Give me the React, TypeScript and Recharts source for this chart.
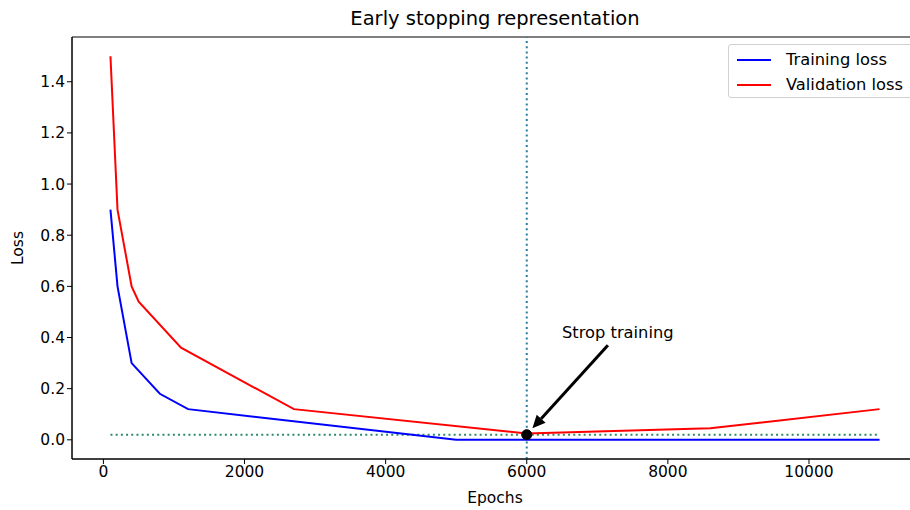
import { LineChart, Line, XAxis, YAxis, ReferenceLine, ReferenceDot, ReferenceArea } from 'recharts'

const trainEpochs = [100, 200, 400, 800, 1200, 5000, 11000]
const trainLoss = [0.9, 0.6, 0.3, 0.18, 0.12, 0.0, 0.0]

const valEpochs = [100, 200, 400, 500, 1100, 2700, 6000, 8600, 11000]
const valLoss = [1.5, 0.9, 0.6, 0.54, 0.36, 0.12, 0.025, 0.045, 0.12]

const thresholdEpochs = [100, 11000]
const thresholdLoss = [0.02, 0.02]

const stopEpoch = 6000
const stopLoss = 0.02
const annotationText = 'Strop training'
const annotationPos = { x: 6500, y: 0.4 }
const arrowFrom = { x: 7150, y: 0.37 }
const arrowTo = { x: 6080, y: 0.045 }

const xTicks = [0, 2000, 4000, 6000, 8000, 10000]
const yTicks = [0, 0.2, 0.4, 0.6, 0.8, 1.0, 1.2, 1.4]
const xDomain: [number, number] = [-445, 11545]
const yDomain: [number, number] = [-0.075, 1.575]

const FONT = '"DejaVu Sans", sans-serif'
const TICK_SIZE = 15.5
const TEXT_SIZE = 16.3

const toPoints = (xs: number[], ys: number[]) => xs.map((x, i) => ({ x, y: ys[i] }))

const trainData = toPoints(trainEpochs, trainLoss)
const valData = toPoints(valEpochs, valLoss)
const thresholdData = toPoints(thresholdEpochs, thresholdLoss)

function Arrow(props: any) {
  const { x1, y1, x2, y2 } = props
  if ([x1, y1, x2, y2].some((v) => typeof v !== 'number')) return null
  const ang = Math.atan2(y2 - y1, x2 - x1)
  const headLen = 13
  const headW = 6
  const bx = x2 - headLen * Math.cos(ang)
  const by = y2 - headLen * Math.sin(ang)
  const px = -Math.sin(ang) * headW
  const py = Math.cos(ang) * headW
  return (
    <g>
      <line x1={x1} y1={y1} x2={bx} y2={by} stroke="#000" strokeWidth={3} />
      <polygon points={`${x2},${y2} ${bx + px},${by + py} ${bx - px},${by - py}`} fill="#000" />
    </g>
  )
}

const legendItems = [
  { name: 'Training loss', color: '#0000ff' },
  { name: 'Validation loss', color: '#ff0000' },
]

export default function App() {
  return (
    <div style={{ position: 'fixed', left: 0, top: 0, width: 910, height: 510, overflow: 'hidden', background: '#fff', fontFamily: FONT }}>
      <div style={{ position: 'absolute', left: 0, width: 990, top: 7, textAlign: 'center', fontSize: 19.5, color: '#000' }}>
        Early stopping representation
      </div>
      <LineChart width={930} height={510} margin={{ top: 37, right: 12, bottom: 6, left: 0 }}>
        <XAxis
          type="number"
          dataKey="x"
          domain={xDomain}
          ticks={xTicks}
          allowDataOverflow
          height={45}
          tickSize={5}
          tick={{ fill: '#000', fontSize: TICK_SIZE, fontFamily: FONT }}
          tickLine={{ stroke: '#000' }}
          axisLine={{ stroke: '#000' }}
          label={{ value: 'Epochs', position: 'insideBottom', offset: 1, fill: '#000', fontSize: TICK_SIZE, fontFamily: FONT }}
        />
        <YAxis
          type="number"
          dataKey="y"
          domain={yDomain}
          ticks={yTicks}
          allowDataOverflow
          width={72}
          tickSize={5}
          tickFormatter={(v: number) => v.toFixed(1)}
          tick={{ fill: '#000', fontSize: TICK_SIZE, fontFamily: FONT }}
          tickLine={{ stroke: '#000' }}
          axisLine={{ stroke: '#000' }}
          label={{
            content: (p: any) => {
              const vb = p.viewBox || { y: 37, height: 422 }
              const cy = vb.y + vb.height / 2
              return (
                <text x={23} y={cy} transform={`rotate(-90, 23, ${cy})`} textAnchor="middle" fill="#000" fontSize={TICK_SIZE} fontFamily={FONT}>
                  Loss
                </text>
              )
            },
          }}
        />
        <ReferenceArea x1={xDomain[0]} x2={xDomain[1]} y1={yDomain[0]} y2={yDomain[1]} fill="none" stroke="#000" strokeWidth={1} />
        <ReferenceLine x={stopEpoch} stroke="#2a7d9c" strokeWidth={2} strokeDasharray="2 3.2" />
        <Line data={thresholdData} dataKey="y" stroke="#2e8b6a" strokeWidth={2} strokeDasharray="2 3.2" dot={false} isAnimationActive={false} />
        <Line data={trainData} dataKey="y" name="Training loss" stroke="#0000ff" strokeWidth={2} dot={false} isAnimationActive={false} />
        <Line data={valData} dataKey="y" name="Validation loss" stroke="#ff0000" strokeWidth={2} dot={false} isAnimationActive={false} />
        <ReferenceDot x={stopEpoch} y={stopLoss} r={5} fill="#000" stroke="#000" />
        <ReferenceLine segment={[arrowFrom, arrowTo]} shape={Arrow} />
        <ReferenceDot
          x={annotationPos.x}
          y={annotationPos.y}
          r={0}
          fill="none"
          stroke="none"
          label={{
            content: (p: any) => {
              const vb = p.viewBox || { x: 0, y: 0 }
              return (
                <text x={vb.x} y={vb.y} textAnchor="start" fill="#000" fontSize={TEXT_SIZE} fontFamily={FONT}>
                  {annotationText}
                </text>
              )
            },
          }}
        />
      </LineChart>
      <div
        style={{
          position: 'absolute',
          left: 728,
          top: 44,
          width: 200,
          height: 54,
          border: '1px solid #d0d0d0',
          borderRadius: 3,
          background: 'rgba(255,255,255,0.8)',
          boxSizing: 'border-box',
          fontSize: TEXT_SIZE,
          color: '#000',
        }}
      >
        {legendItems.map((it, i) => (
          <div key={it.name} style={{ position: 'absolute', left: 8, top: 5 + i * 25, height: 19, display: 'flex', alignItems: 'center' }}>
            <span style={{ display: 'inline-block', width: 34, height: 2, background: it.color, marginRight: 15 }} />
            <span>{it.name}</span>
          </div>
        ))}
      </div>
    </div>
  )
}
